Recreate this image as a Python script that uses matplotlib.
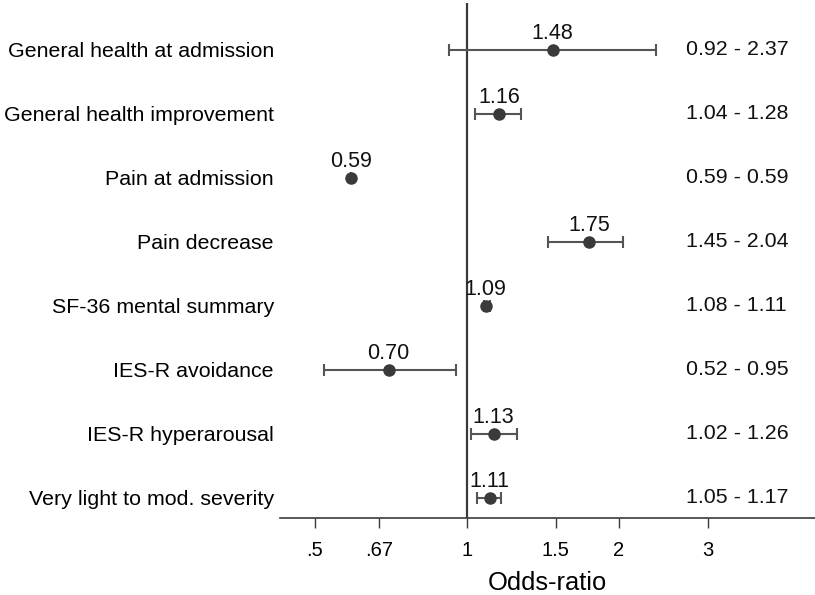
import matplotlib

matplotlib.use("Agg")
import matplotlib.pyplot as plt
import matplotlib.transforms as mtransforms
import numpy as np

# forest plot data
labels = [
  "General health at admission",
  "General health improvement",
  "Pain at admission",
  "Pain decrease",
  "SF-36 mental summary",
  "IES-R avoidance",
  "IES-R hyperarousal",
  "Very light to mod. severity",
]
odds = [1.48, 1.16, 0.59, 1.75, 1.09, 0.70, 1.13, 1.11]
ci_low = [0.92, 1.04, 0.59, 1.45, 1.08, 0.52, 1.02, 1.05]
ci_high = [2.37, 1.28, 0.59, 2.04, 1.11, 0.95, 1.26, 1.17]
tick_values = [0.5, 0.67, 1, 1.5, 2, 3]
tick_labels = [".5", ".67", "1", "1.5", "2", "3"]

plt.rcParams["font.family"] = ["Liberation Sans", "DejaVu Sans"]

fig = plt.figure(figsize=(8.15, 5.95), dpi=100)
ax = fig.add_axes([280 / 815, 1 - 517.6 / 595, 535 / 815, 514.6 / 595])

dark = "#3a3a3a"
bar_col = "#555555"

y = np.arange(1, len(labels) + 1)
odds = np.array(odds)
err = np.vstack([odds - np.array(ci_low), np.array(ci_high) - odds])

ax.errorbar(
  odds, y, xerr=err, fmt="none", ecolor=bar_col, elinewidth=1.5,
  capsize=4, capthick=1.5, zorder=2,
)
ax.plot(odds, y, "o", color=dark, markersize=8, zorder=3)

ax.axvline(1, color=dark, linewidth=1.6, zorder=1)

for xv, yv in zip(odds, y):
  ax.annotate(
    f"{xv:.2f}", (xv, yv), xytext=(0, 8), textcoords="offset points",
    ha="center", va="baseline", fontsize=15.5, color="#111111",
  )

trans = mtransforms.blended_transform_factory(ax.transAxes, ax.transData)
for lo, hi, yv in zip(ci_low, ci_high, y):
  ax.text(
    0.759, yv, f"{lo:.2f} - {hi:.2f}", transform=trans,
    ha="left", va="center", fontsize=15.4, color="#111111",
  )

ax.set_xscale("log")
ax.set_xlim(0.4263, 4.9)
ax.set_ylim(8.31, 0.27)
ax.set_xticks(tick_values)
ax.set_xticklabels(tick_labels, fontsize=14.5)
ax.minorticks_off()
ax.set_yticks(y)
ax.set_yticklabels(labels, fontsize=15.4)
ax.tick_params(axis="y", length=0, pad=4.5)
ax.tick_params(axis="x", length=7, width=1, color=dark, pad=10)
ax.set_xlabel("Odds-ratio", fontsize=18.4, labelpad=8)

for side in ("top", "right", "left"):
  ax.spines[side].set_visible(False)
ax.spines["bottom"].set_color(dark)
ax.spines["bottom"].set_linewidth(1.2)

fig.savefig("out.png", dpi=100)
